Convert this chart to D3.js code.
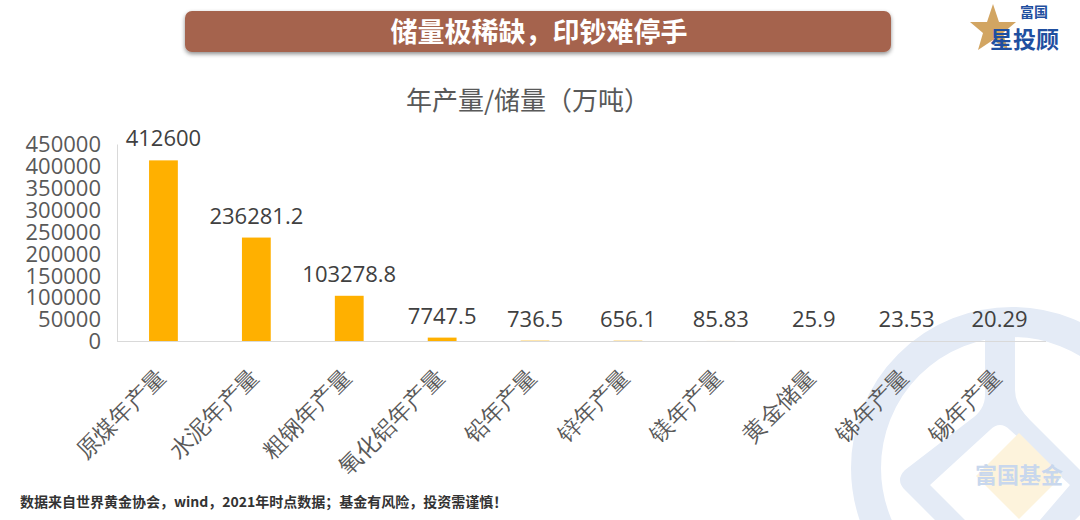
<!DOCTYPE html>
<html><head><meta charset="utf-8">
<script src="https://cdn.jsdelivr.net/npm/d3@7"></script>
<style>
html,body{margin:0;padding:0;background:#fff;}
svg{display:block;font-family:"Noto Sans CJK SC","Noto Sans",sans-serif;}
</style></head>
<body>
<svg id="c" width="1080" height="520"></svg>
<script>
const categories = ["原煤年产量","水泥年产量","粗钢年产量","氧化铝年产量","铅年产量","锌年产量","镁年产量","黄金储量","锑年产量","锡年产量"];
const values = [412600, 236281.2, 103278.8, 7747.5, 736.5, 656.1, 85.83, 25.9, 23.53, 20.29];
const valueLabels = ["412600","236281.2","103278.8","7747.5","736.5","656.1","85.83","25.9","23.53","20.29"];
const yTicks = [0,50000,100000,150000,200000,250000,300000,350000,400000,450000];
const bannerTitle = "储量极稀缺，印钞难停手";
const chartTitle = "年产量/储量（万吨）";
const footnote = "数据来自世界黄金协会，wind，2021年时点数据；基金有风险，投资需谨慎！";

const svg = d3.select("#c");

// watermark
const wm = svg.append("g");
wm.append("circle").attr("cx",1012).attr("cy",468).attr("r",146)
  .attr("fill","none").attr("stroke","#E4EBF6").attr("stroke-width",30);
wm.append("path").attr("d","M 985 325 L 985 395 Q 985 410 970 420 L 905 470 Q 895 480 905 490 L 935 520 L 965 520 L 930 485 L 990 430 Q 1000 420 1010 430 L 1070 485 L 1040 520 L 1075 520 L 1080 515 L 1080 470 L 1030 420 Q 1015 405 1015 390 L 1015 325 Z")
  .attr("fill","#E4EBF6");
wm.append("path").attr("d","M 1019 433 L 1062 476 L 1019 519 L 976 476 Z").attr("fill","#FDF3DC");
wm.append("text").attr("x",1019).attr("y",483).attr("text-anchor","middle")
  .attr("font-size",22).attr("font-weight","bold").attr("fill","#C8D7ED").text("富国基金");

// banner
const defs = svg.append("defs");
const f = defs.append("filter").attr("id","sh").attr("x","-5%").attr("y","-30%").attr("width","110%").attr("height","170%");
f.append("feDropShadow").attr("dx",0).attr("dy",2).attr("stdDeviation",2).attr("flood-color","#000").attr("flood-opacity",0.45);
svg.append("rect").attr("x",185).attr("y",11).attr("width",706).attr("height",41).attr("rx",7)
  .attr("fill","#A5634D").attr("filter","url(#sh)");
svg.append("text").attr("x",539).attr("y",42).attr("text-anchor","middle")
  .attr("font-size",27).attr("font-weight","bold").attr("fill","#fff").text(bannerTitle);

// logo
const logo = svg.append("g");
logo.append("path").attr("d","M 993 4 L 999 22 L 1016 22 L 1003 33 L 1008 50 L 993 40 L 978 50 L 983 33 L 970 22 L 987 22 Z")
  .attr("fill","#D2A562");
logo.append("text").attr("x",1020).attr("y",17).attr("font-size",14).attr("font-weight","bold").attr("fill","#1F4FA0").text("富国");
logo.append("text").attr("x",990).attr("y",48).attr("font-size",23).attr("font-weight","bold").attr("fill","#1F4FA0").text("星投顾");

// chart title
svg.append("text").attr("x",528).attr("y",110).attr("text-anchor","middle")
  .attr("font-size",26).attr("fill","#595959").text(chartTitle);

// scales
const x = d3.scaleBand().domain(categories).range([117,1046]).paddingInner(0.69).paddingOuter(0.345);
const y = d3.scaleLinear().domain([0,450000]).range([341,144]);

// y axis
const yAxis = svg.append("g").attr("transform","translate(117,0)")
  .call(d3.axisLeft(y).tickValues(yTicks).tickSize(0).tickPadding(16).tickFormat(d3.format("d")));
yAxis.select(".domain").attr("stroke","#D9D9D9");
yAxis.selectAll("text").attr("font-size",22).attr("fill","#595959")
  .attr("font-family","'Open Sans','Noto Sans',sans-serif").attr("dy","0.35em");

// bars
svg.append("g").selectAll("rect").data(values).join("rect")
  .attr("x",(d,i)=>x(categories[i])).attr("width",x.bandwidth())
  .attr("y",d=>y(d)).attr("height",d=>y(0)-y(d)).attr("fill","#FFB000");

// x axis
const xAxis = svg.append("g").attr("transform","translate(0,341)")
  .call(d3.axisBottom(x).tickSize(0).tickSizeOuter(0).tickPadding(0));
xAxis.select(".domain").attr("stroke","#D9D9D9").attr("d","M117,0.5H1046");
xAxis.selectAll(".tick text").attr("font-size",23).attr("fill","#595959")
  .attr("text-anchor","end").attr("dy","0.35em")
  .attr("transform","translate(-2,32) rotate(-45)");

// value labels
svg.append("g").selectAll("text").data(values).join("text")
  .attr("x",(d,i)=>x(categories[i])+x.bandwidth()/2).attr("y",d=>y(d)-14)
  .attr("text-anchor","middle").attr("font-size",22).attr("fill","#404040")
  .attr("font-family","'Open Sans','Noto Sans',sans-serif")
  .text((d,i)=>valueLabels[i]);

// footnote
svg.append("text").attr("x",20).attr("y",507).attr("font-size",14).attr("font-weight","bold")
  .attr("fill","#333").text(footnote);
</script>
</body></html>
